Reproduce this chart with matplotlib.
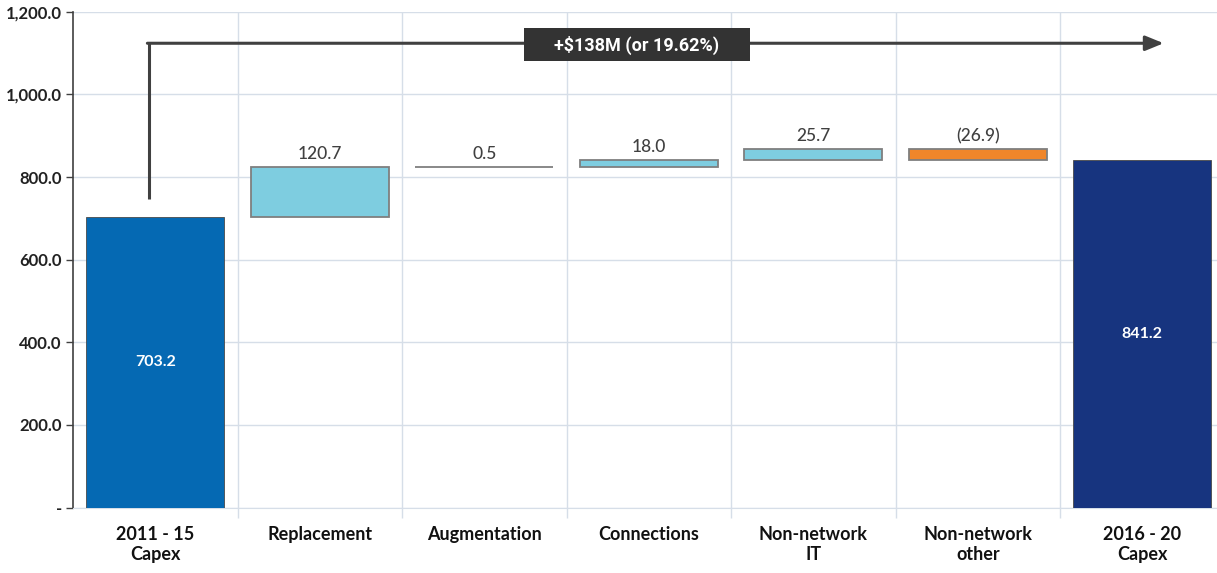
import numpy as np
import matplotlib.pyplot as plt
from matplotlib.patches import Rectangle

# Capex bridge, $M
categories = ["2011 - 15\nCapex", "Replacement", "Augmentation", "Connections",
              "Non-network\nIT", "Non-network\nother", "2016 - 20\nCapex"]
start_total = 703.2
changes = [120.7, 0.5, 18.0, 25.7, -26.9]
end_total = 841.2
change_text = "+$138M (or 19.62%)"
yticks = [0, 200, 400, 600, 800, 1000, 1200]

FONT = ["Lato", "DejaVu Sans"]
NARROW = ["Liberation Sans Narrow", "Roboto", "DejaVu Sans"]

plt.rcParams['font.family'] = FONT

fig = plt.figure(figsize=(12.17, 5.73), dpi=100)
ax = fig.add_axes([0.06, 0.1143, 0.94, 0.8650])

x = np.arange(len(categories))
width = 0.84

# float bars for each change
bottoms = start_total + np.concatenate([[0], np.cumsum(changes)[:-1]])
heights = np.array(changes)
lows = np.where(heights >= 0, bottoms, bottoms + heights)
colors = ["#7ECDE0" if h >= 0 else "#F0862A" for h in heights]

ax.bar(x[0], start_total, width=width, color="#0569B3", edgecolor="#4a4a4a", linewidth=0.6, zorder=3)
ax.bar(x[1:6], np.abs(heights), bottom=lows, width=width, color=colors,
       edgecolor="#7F7F7F", linewidth=1.3, zorder=3)
ax.bar(x[6], end_total, width=width, color="#17347F", edgecolor="#4a4a4a", linewidth=0.6, zorder=3)

# value labels
ax.text(x[0], start_total / 2, f"{start_total:.1f}", ha="center", va="center",
        color="white", fontsize=11.5, fontweight="bold", zorder=4)
ax.text(x[6], end_total / 2, f"{end_total:.1f}", ha="center", va="center",
        color="white", fontsize=11.5, fontweight="bold", zorder=4)
for xi, lo, h in zip(x[1:6], lows, heights):
    lab = f"{h:.1f}" if h >= 0 else f"({-h:.1f})"
    ax.text(xi, lo + abs(h) + 12, lab, ha="center", va="bottom",
            color="#404040", fontsize=12.5, fontweight="medium", zorder=4)

# overall change arrow
arrow_y = 1124
arrow_x = x[0] - 0.04
ax.plot([arrow_x, arrow_x], [748, arrow_y], color="#404040", lw=2.2, zorder=5,
        solid_capstyle="butt")
ax.annotate("", xy=(6.13, arrow_y), xytext=(arrow_x - 0.008, arrow_y),
            arrowprops=dict(arrowstyle="-|>,head_length=1.1,head_width=0.45",
                            color="#404040", lw=2.2, shrinkA=0, shrinkB=0), zorder=5)
ax.add_patch(Rectangle((2.24, 1080), 1.375, 80, fc="#333333", ec="none", zorder=6))
ax.text(2.24 + 1.375 / 2, 1118, change_text, ha="center", va="center", color="white",
        fontsize=13, fontweight="bold", family=NARROW, zorder=7)

ax.set_xlim(-0.5, -0.5 + 1144 / 164.5)
ax.set_ylim(0, 1200)

# axes styling
ax.set_yticks(yticks)
ax.set_yticklabels(["-" if v == 0 else f"{v:,.1f}" for v in yticks],
                   fontsize=12, fontweight="bold", color="#222222")
ax.set_xticks(x)
ax.set_xticklabels(categories, fontsize=13, fontweight="bold", color="#111111",
                   linespacing=1.25)
ax.tick_params(axis="x", length=0, pad=13)
ax.tick_params(axis="y", length=5, width=1, color="#404040", pad=3)
ax.set_xticks(np.arange(0.5, 6.5, 1), minor=True)
ax.tick_params(axis="x", which="minor", length=7, color="#D6DEE8", width=1)

ax.grid(axis="y", color="#D6DEE8", lw=1, zorder=0)
ax.grid(axis="x", which="minor", color="#D6DEE8", lw=1, zorder=0)
for s in ["top", "right"]:
    ax.spines[s].set_visible(False)
ax.spines["left"].set_color("#404040")
ax.spines["left"].set_linewidth(1.2)
ax.spines["bottom"].set_color("#D6DEE8")

fig.savefig("out.png", dpi=100)
